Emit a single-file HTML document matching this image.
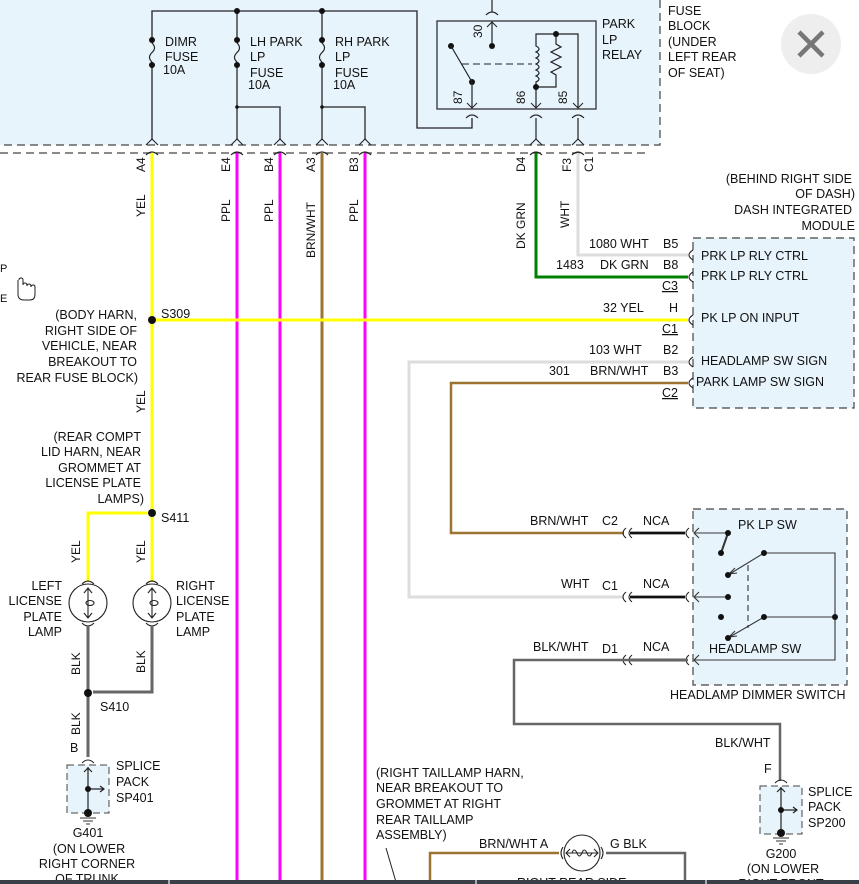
<!DOCTYPE html>
<html><head><meta charset="utf-8"><style>
html,body{margin:0;padding:0;background:#fff;}
svg{display:block;font-family:"Liberation Sans",Arial,sans-serif;font-size:12.5px;}
text{fill:#111;}
</style></head><body>
<svg width="859" height="884" viewBox="0 0 859 884" xmlns="http://www.w3.org/2000/svg">
<!-- fuse block background -->
<rect x="0" y="0" width="660" height="145" fill="#e8f4fc"/>
<path d="M660 0 V145 H0" fill="none" stroke="#444" stroke-dasharray="8,5" stroke-width="1.2"/>
<path d="M0 153 H650" fill="none" stroke="#444" stroke-dasharray="8,5" stroke-width="1.2"/>
<!-- bus -->
<path d="M152 140 V11 H417 V128 H472 V118" fill="none" stroke="#222" stroke-width="1.3"/>
<path d="M237 11 V140 M322 11 V140 M237 107 H280 V140 M322 107 H365 V140" fill="none" stroke="#444" stroke-width="1.5"/>
<circle cx="237" cy="11" r="3" fill="#111"/><circle cx="322" cy="11" r="3" fill="#111"/>
<circle cx="237" cy="107" r="1.8" fill="#111"/><circle cx="322" cy="107" r="1.8" fill="#111"/>
<!-- fuses -->
<g fill="#111">
<circle cx="152" cy="40" r="3"/><circle cx="152" cy="65" r="3"/>
<circle cx="237" cy="40" r="3"/><circle cx="237" cy="65" r="3"/>
<circle cx="322" cy="40" r="3"/><circle cx="322" cy="65" r="3"/>
</g>
<g fill="#e8f4fc" stroke="none"><rect x="148" y="43" width="8" height="19"/><rect x="233" y="43" width="8" height="19"/><rect x="318" y="43" width="8" height="19"/></g>
<g fill="none" stroke="#222" stroke-width="1.2">
<path d="M152 43 q5 5 0 9.5 q-5 5 0 9.5"/><path d="M237 43 q5 5 0 9.5 q-5 5 0 9.5"/><path d="M322 43 q5 5 0 9.5 q-5 5 0 9.5"/>
</g>
<text x="165" y="46">DIMR</text><text x="165" y="61">FUSE</text><text x="163" y="74" fill="#611">10A</text>
<text x="250" y="46">LH PARK</text><text x="250" y="61">LP</text><text x="250" y="77">FUSE</text><text x="248" y="89">10A</text>
<text x="335" y="46">RH PARK</text><text x="335" y="61">LP</text><text x="335" y="77">FUSE</text><text x="333" y="89">10A</text>
<!-- connectors at fuse block bottom -->
<g fill="none" stroke="#222" stroke-width="1.1">
<path d="M146 145 l6 -6 l6 6 M146 155 q6 -6 12 0"/>
<path d="M231 145 l6 -6 l6 6 M231 155 q6 -6 12 0"/>
<path d="M274 145 l6 -6 l6 6 M274 155 q6 -6 12 0"/>
<path d="M316 145 l6 -6 l6 6 M316 155 q6 -6 12 0"/>
<path d="M359 145 l6 -6 l6 6 M359 155 q6 -6 12 0"/>
<path d="M530 145 l6 -6 l6 6 M530 155 q6 -6 12 0"/>
<path d="M572 145 l6 -6 l6 6 M572 155 q6 -6 12 0"/>
<path d="M466 118 q6 -6 12 0 M530 118 q6 -6 12 0 M572 118 q6 -6 12 0"/>
<path d="M486 15 q6 -6 12 0"/>
</g>
<path d="M536 118 V140 M578 118 V140" stroke="#222" stroke-width="1.2"/>
<!-- wires down -->
<path d="M152 153 V518" stroke="#ffff00" stroke-width="3"/>
<path d="M237 153 V884 M280 153 V884 M365 153 V884" stroke="#ff00ff" stroke-width="3"/>
<path d="M322 153 V884" stroke="#9a7430" stroke-width="3"/>
<path d="M536 153 V277 H688" stroke="#008000" stroke-width="3" fill="none"/>
<path d="M578 153 V255 H688" stroke="#ddd" stroke-width="3" fill="none"/>
<g font-size="12">
<text transform="translate(145,172) rotate(-90)">A4</text>
<text transform="translate(145,217) rotate(-90)">YEL</text>
<text transform="translate(230,172) rotate(-90)">E4</text>
<text transform="translate(230,222) rotate(-90)">PPL</text>
<text transform="translate(273,172) rotate(-90)">B4</text>
<text transform="translate(273,222) rotate(-90)">PPL</text>
<text transform="translate(315,172) rotate(-90)">A3</text>
<text transform="translate(315,258) rotate(-90)">BRN/WHT</text>
<text transform="translate(358,172) rotate(-90)">B3</text>
<text transform="translate(358,222) rotate(-90)">PPL</text>
<text transform="translate(525,172) rotate(-90)">D4</text>
<text transform="translate(525,249) rotate(-90)">DK GRN</text>
<text transform="translate(571,172) rotate(-90)">F3</text>
<text transform="translate(593,172) rotate(-90)">C1</text>
<text transform="translate(569,228) rotate(-90)">WHT</text>
</g>
<!-- relay -->
<rect x="437" y="21" width="159" height="88" fill="#e8f4fc" stroke="#333" stroke-width="1.3"/>
<path d="M492 0 V12 M492 22 V46" stroke="#222" stroke-width="1.2"/>
<path d="M487 27 l5 -5 l5 5" stroke="#222" fill="none"/>
<circle cx="492" cy="46" r="3" fill="#111"/>
<circle cx="451" cy="46" r="3" fill="#111"/><circle cx="472" cy="82" r="3" fill="#111"/>
<path d="M451 46 L472 82 V108 M536 87 V108 M556 34 H578 V108" stroke="#222" stroke-width="1.2" fill="none"/>
<path d="M467 103 l5 5 l5 -5 M531 103 l5 5 l5 -5 M573 103 l5 5 l5 -5" stroke="#222" fill="none"/>
<path d="M462 64 H532" stroke="#222" stroke-dasharray="7,4"/>
<path d="M536 87 V82 q6 -3 0 -6 q6 -3 0 -6 q6 -3 0 -6 q6 -3 0 -6 q6 -3 0 -6 q6 -3 0 -6 V34 H556 V44 l5 3 l-10 5 l10 5 l-10 5 l10 5 l-10 5 l5 3 V87 H536" stroke="#222" stroke-width="1.2" fill="none"/>
<circle cx="556" cy="34" r="3" fill="#111"/><circle cx="536" cy="87" r="3" fill="#111"/>
<text transform="translate(482,38) rotate(-90)" font-size="12">30</text>
<text transform="translate(462,104) rotate(-90)" font-size="12">87</text>
<text transform="translate(525,104) rotate(-90)" font-size="12">86</text>
<text transform="translate(567,104) rotate(-90)" font-size="12">85</text>
<text x="602" y="28">PARK</text><text x="602" y="44">LP</text><text x="602" y="59">RELAY</text>
<text x="668" y="15">FUSE</text><text x="668" y="30">BLOCK</text><text x="668" y="46">(UNDER</text><text x="668" y="61">LEFT REAR</text><text x="668" y="77">OF SEAT)</text>
<!-- close button -->
<circle cx="811" cy="44" r="30" fill="#eee"/>
<path d="M799 32 L823 56 M823 32 L799 56" stroke="#777" stroke-width="4.5"/>
<!-- dash module -->
<g text-anchor="end"><text x="852" y="183">(BEHIND RIGHT SIDE</text><text x="855" y="198">OF DASH)</text><text x="852" y="214">DASH INTEGRATED</text><text x="855" y="230">MODULE</text></g>
<rect x="693" y="238" width="161" height="170" fill="#e8f4fc" stroke="#444" stroke-dasharray="8,5" stroke-width="1.2"/>
<path d="M152 320 H688" stroke="#ffff00" stroke-width="3"/>
<path d="M688 362 H409 V597 H624" stroke="#ddd" stroke-width="3" fill="none"/>
<path d="M688 383 H451 V533 H624" stroke="#9a7430" stroke-width="2.5" fill="none"/>
<g fill="none" stroke="#222" stroke-width="1.1">
<path d="M693 250 q-8 5 0 10 M693 272 q-8 5 0 10 M693 315 q-8 5 0 10 M693 357 q-8 5 0 10 M693 378 q-8 5 0 10"/>
</g>
<text x="589" y="248">1080 WHT</text><text x="663" y="248">B5</text>
<text x="556" y="269">1483</text><text x="600" y="269">DK GRN</text><text x="663" y="269">B8</text>
<text x="662" y="290" text-decoration="underline">C3</text>
<text x="603" y="312">32  YEL</text><text x="669" y="312">H</text>
<text x="662" y="333" text-decoration="underline">C1</text>
<text x="589" y="354">103  WHT</text><text x="663" y="354">B2</text>
<text x="549" y="375">301</text><text x="590" y="375">BRN/WHT</text><text x="663" y="375">B3</text>
<text x="662" y="397" text-decoration="underline">C2</text>
<text x="701" y="260">PRK LP RLY CTRL</text><text x="701" y="280">PRK LP RLY CTRL</text>
<text x="701" y="322">PK LP ON INPUT</text><text x="701" y="365">HEADLAMP SW SIGN</text><text x="696" y="386">PARK LAMP SW SIGN</text>
<!-- left splices -->
<circle cx="152" cy="320" r="4" fill="#111"/>
<text x="161" y="318">S309</text>
<g text-anchor="end"><text x="137" y="319">(BODY HARN,</text><text x="137" y="335">RIGHT SIDE OF</text><text x="137" y="350">VEHICLE, NEAR</text><text x="137" y="366">BREAKOUT TO</text><text x="138" y="382">REAR FUSE BLOCK)</text>
<text x="141" y="441">(REAR COMPT</text><text x="141" y="456">LID HARN, NEAR</text><text x="141" y="472">GROMMET AT</text><text x="141" y="487">LICENSE PLATE</text><text x="144" y="503">LAMPS)</text></g>
<text transform="translate(145,413) rotate(-90)" font-size="12">YEL</text>
<circle cx="152" cy="513" r="4" fill="#111"/><text x="161" y="522">S411</text>
<path d="M147 513 H88 V582 M152 518 V582" stroke="#ffff00" stroke-width="3" fill="none"/>
<text transform="translate(80,563) rotate(-90)" font-size="12">YEL</text>
<text transform="translate(145,563) rotate(-90)" font-size="12">YEL</text>
<g fill="none" stroke="#222" stroke-width="1.1">
<circle cx="88" cy="603" r="19"/><circle cx="152" cy="603" r="19"/>
<path d="M82 584 q6 -6 12 0 M146 584 q6 -6 12 0 M82 623 q6 6 12 0 M146 623 q6 6 12 0"/>
<path d="M88 588 V618 M152 588 V618 M84 593 l4 -5 l4 5 M148 593 l4 -5 l4 5 M84 613 l4 5 l4 -5 M148 613 l4 5 l4 -5"/>
<ellipse cx="90" cy="603" rx="4" ry="2.5"/><ellipse cx="154" cy="603" rx="4" ry="2.5"/>
</g>
<g text-anchor="end"><text x="62" y="590">LEFT</text><text x="62" y="605">LICENSE</text><text x="62" y="621">PLATE</text><text x="62" y="636">LAMP</text></g>
<text x="176" y="590">RIGHT</text><text x="176" y="605">LICENSE</text><text x="176" y="621">PLATE</text><text x="176" y="636">LAMP</text>
<path d="M88 626 V757 M152 626 V692 H93" stroke="#666" stroke-width="3" fill="none"/>
<circle cx="88" cy="693" r="4" fill="#111"/><text x="100" y="711">S410</text>
<text transform="translate(80,675) rotate(-90)" font-size="12">BLK</text>
<text transform="translate(145,673) rotate(-90)" font-size="12">BLK</text>
<text transform="translate(80,735) rotate(-90)" font-size="12">BLK</text>
<text x="70" y="752">B</text>
<rect x="67" y="765" width="42" height="48" fill="#e8f4fc" stroke="#444" stroke-dasharray="7,4"/>
<path d="M82 763 q6 -6 12 0" fill="none" stroke="#222"/>
<path d="M88 767 V813 M84 772 l4 -4 l4 4 M88 789 H104 M100 786 l4 3 l-4 3" stroke="#222" fill="none" stroke-width="1.2"/>
<circle cx="88" cy="789" r="3" fill="#111"/><circle cx="88" cy="813" r="4" fill="#111"/>
<path d="M80 818 H96 M83 821 H93 M86 824 H90" stroke="#333"/>
<text x="116" y="770">SPLICE</text><text x="116" y="786">PACK</text><text x="116" y="802">SP401</text>
<g text-anchor="middle"><text x="88" y="837">G401</text><text x="89" y="853">(ON LOWER</text><text x="87" y="868">RIGHT CORNER</text><text x="87" y="883">OF TRUNK</text></g>
<!-- headlamp dimmer switch -->
<rect x="693" y="509" width="154" height="176" fill="#e8f4fc" stroke="#444" stroke-dasharray="8,5" stroke-width="1.2"/>
<g fill="none" stroke="#222" stroke-width="1.1">
<path d="M626 528 q-6 5 0 10 M632 528 q-6 5 0 10 M689 528 q-6 5 0 10"/>
<path d="M626 592 q-6 5 0 10 M632 592 q-6 5 0 10 M689 592 q-6 5 0 10"/>
<path d="M626 655 q-6 5 0 10 M632 655 q-6 5 0 10 M689 655 q-6 5 0 10"/>
</g>
<path d="M630 533 H685 M630 597 H685 M630 660 H685" stroke="#111" stroke-width="2.8"/>
<text x="530" y="525">BRN/WHT</text><text x="602" y="525">C2</text><text x="643" y="525">NCA</text>
<text x="561" y="588">WHT</text><text x="602" y="590">C1</text><text x="643" y="588">NCA</text>
<text x="533" y="651">BLK/WHT</text><text x="602" y="653">D1</text><text x="643" y="651">NCA</text>
<path d="M688 660 H514 V724 H780 V781" stroke="#666" stroke-width="2.5" fill="none"/>
<g stroke="#333" stroke-width="1.1" fill="none">
<path d="M695 533 H728 M699 528 l-5 5 l5 5 M695 597 H728 M699 592 l-5 5 l5 5 M695 660 H835 V553 H764 M699 655 l-5 5 l5 5 M764 617 H835"/>
<path d="M728 533 L721 553" stroke-width="2"/>
<path d="M764 553 L728 575 M764 617 L728 638 M735 568 l-6 6 l8 -1 M735 631 l-6 6 l8 -1"/>
<path d="M748 565 V628" stroke-dasharray="6,4"/>
</g>
<g fill="#111"><circle cx="728" cy="533" r="3"/><circle cx="721" cy="553" r="3"/><circle cx="764" cy="553" r="3"/><circle cx="728" cy="575" r="3"/><circle cx="728" cy="597" r="3"/><circle cx="721" cy="617" r="3"/><circle cx="764" cy="617" r="3"/><circle cx="728" cy="638" r="3"/><circle cx="835" cy="617" r="3"/></g>
<text x="738" y="529">PK LP SW</text><text x="709" y="653">HEADLAMP SW</text>
<text x="670" y="699">HEADLAMP DIMMER SWITCH</text>
<!-- SP200 -->
<text x="715" y="747">BLK/WHT</text><text x="764" y="773">F</text>
<rect x="760" y="786" width="42" height="48" fill="#e8f4fc" stroke="#444" stroke-dasharray="7,4"/>
<path d="M775 783 q6 -6 12 0" fill="none" stroke="#222"/>
<path d="M781 787 V834 M777 792 l4 -4 l4 4 M781 810 H797 M793 807 l4 3 l-4 3" stroke="#222" fill="none" stroke-width="1.2"/>
<circle cx="781" cy="810" r="3" fill="#111"/><circle cx="781" cy="833" r="4" fill="#111"/>
<path d="M773 838 H789 M776 841 H786 M779 844 H783" stroke="#333"/>
<text x="808" y="796">SPLICE</text><text x="808" y="811">PACK</text><text x="808" y="827">SP200</text>
<g text-anchor="middle"><text x="781" y="858">G200</text><text x="783" y="873">(ON LOWER</text><text x="781" y="888">RIGHT FRONT</text></g>
<!-- right taillamp -->
<text x="376" y="777">(RIGHT TAILLAMP HARN,</text><text x="376" y="792">NEAR BREAKOUT TO</text><text x="376" y="808">GROMMET AT RIGHT</text><text x="376" y="824">REAR TAILLAMP</text><text x="376" y="839">ASSEMBLY)</text>
<path d="M386 848 L396 882" stroke="#222"/>
<path d="M559 853 H430 V884" stroke="#9a7430" stroke-width="2.5" fill="none"/>
<path d="M606 853 H685 V884" stroke="#666" stroke-width="2.5" fill="none"/>
<g fill="none" stroke="#222" stroke-width="1.1">
<circle cx="582" cy="853" r="18"/>
<path d="M563 847 q-4 6 0 12 M601 847 q4 6 0 12 M566 853 H598 M570 849 l-4 4 l4 4 M594 849 l4 4 l-4 4"/>
<path d="M572 853 q2 -6 5 0 q2 6 5 0 q2 -6 5 0 q2 6 5 0"/>
</g>
<text x="479" y="848">BRN/WHT A</text><text x="610" y="848">G  BLK</text>
<text x="517" y="887">RIGHT REAR SIDE</text>
<!-- bottom bar -->
<rect x="0" y="880" width="859" height="4" fill="#3a3f47"/>
<rect x="168" y="880" width="2" height="4" fill="#aaa"/><rect x="475" y="880" width="2" height="4" fill="#aaa"/><rect x="705" y="880" width="2" height="4" fill="#aaa"/>
<!-- hand cursor hint -->
<text x="0" y="272" font-size="11">P</text><text x="0" y="302" font-size="11">E</text>
<path d="M18 280 v14 q0 6 6 6 h6 q5 0 5 -6 v-7 q0 -2 -2 -2 q-2 0 -2 2 q0 -3 -2 -3 q-2 0 -2 2 q0 -3 -2 -3 q-2 0 -2 2 v-5 q0 -2 -2 -2 q-2 0 -2 2" fill="#fff" stroke="#222"/>
</svg>
</body></html>
